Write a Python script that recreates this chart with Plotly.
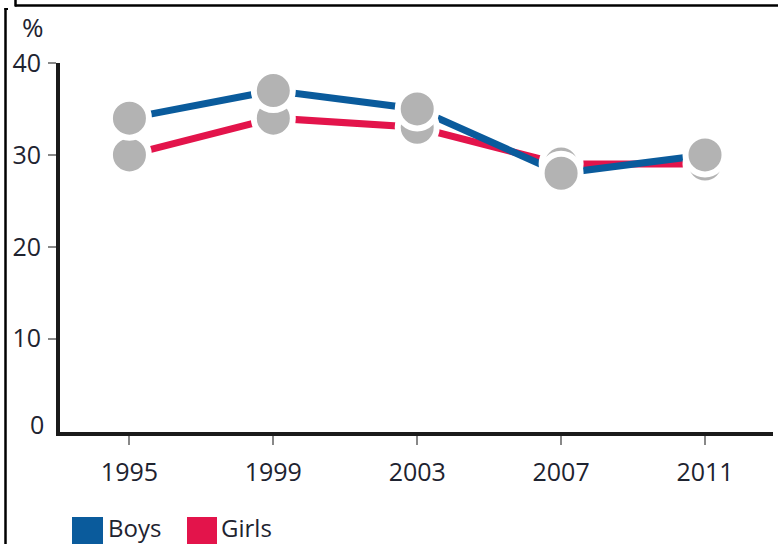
import plotly.graph_objects as go

years = [1995, 1999, 2003, 2007, 2011]
boys = [34, 37, 35, 28, 30]
girls = [30, 34, 33, 29, 29]
y_tick_vals = [10, 20, 30, 40]
y_tick_text = ["10", "20", "30", "40"]
x_tick_text = ["1995", "1999", "2003", "2007", "2011"]
series_names = ["Boys", "Girls"]

BLUE = "#0a5b9c"
RED = "#e3144b"
GREY = "#b3b3b3"
FONT = "Open Sans, DejaVu Sans, sans-serif"
TXT = "#1e2330"

W, H = 778, 544
L, R, T, B = 60, 5, 63, 112
PW, PH = W - L - R, H - T - B


def px(x):
    return (x - L) / PW


def py(y):
    return (H - B - y) / PH


fig = go.Figure()

# lines first
fig.add_trace(go.Scatter(x=years, y=girls, mode="lines", name="Girls",
                         line=dict(color=RED, width=7), showlegend=False,
                         cliponaxis=False))
fig.add_trace(go.Scatter(x=years, y=boys, mode="lines", name="Boys",
                         line=dict(color=BLUE, width=7), showlegend=False,
                         cliponaxis=False))
# markers on top
fig.add_trace(go.Scatter(x=years, y=girls, mode="markers", name="Girls",
                         marker=dict(color=GREY, size=39,
                                     line=dict(color="white", width=6)),
                         showlegend=False, cliponaxis=False))
fig.add_trace(go.Scatter(x=years, y=boys, mode="markers", name="Boys",
                         marker=dict(color=GREY, size=39,
                                     line=dict(color="white", width=6)),
                         showlegend=False, cliponaxis=False))

shapes = []
# frame lines
shapes.append(dict(type="line", xref="paper", yref="paper",
                   x0=px(15), x1=px(778), y0=py(5.5), y1=py(5.5),
                   line=dict(color="black", width=2.5)))
shapes.append(dict(type="line", xref="paper", yref="paper",
                   x0=px(15.5), x1=px(15.5), y0=py(0), y1=py(6.5),
                   line=dict(color="black", width=2.5)))
shapes.append(dict(type="line", xref="paper", yref="paper",
                   x0=px(5.5), x1=px(5.5), y0=py(8), y1=py(544),
                   line=dict(color="black", width=2.5)))
shapes.append(dict(type="line", xref="paper", yref="paper",
                   x0=px(4.5), x1=px(8), y0=py(9), y1=py(9),
                   line=dict(color="black", width=2)))
# legend swatches
shapes.append(dict(type="rect", xref="paper", yref="paper",
                   x0=px(72), x1=px(103), y0=py(517), y1=py(546),
                   fillcolor=BLUE, line=dict(width=0)))
shapes.append(dict(type="rect", xref="paper", yref="paper",
                   x0=px(187), x1=px(217), y0=py(517), y1=py(546),
                   fillcolor=RED, line=dict(width=0)))

annotations = [
    dict(text="%", xref="paper", yref="paper", x=px(33), y=py(27),
         xanchor="center", yanchor="middle", showarrow=False,
         font=dict(family=FONT, size=26, color=TXT)),
    dict(text="0", xref="paper", yref="y", x=px(46), y=0, yshift=7,
         xanchor="right", yanchor="middle", showarrow=False,
         font=dict(family=FONT, size=25, color=TXT)),
    dict(text=series_names[0], xref="paper", yref="paper", x=px(106), y=py(527),
         xanchor="left", yanchor="middle", showarrow=False,
         font=dict(family=FONT, size=24, color=TXT)),
    dict(text=series_names[1], xref="paper", yref="paper", x=px(219), y=py(527),
         xanchor="left", yanchor="middle", showarrow=False,
         font=dict(family=FONT, size=24, color=TXT)),
]

fig.update_layout(
    width=W, height=H,
    margin=dict(l=L, r=R, t=T, b=B, pad=0),
    paper_bgcolor="white", plot_bgcolor="white",
    showlegend=False,
    shapes=shapes, annotations=annotations,
    font=dict(family=FONT, size=25, color=TXT),
    xaxis=dict(range=[1993.07, 2012.89], tickvals=years, ticktext=x_tick_text,
               showgrid=False, zeroline=False, showline=True,
               linecolor="#1a1a1a", linewidth=3.5,
               ticks="outside", ticklen=9, tickwidth=2, tickcolor="#888888",
               tickfont=dict(family=FONT, size=25, color=TXT),
               ticklabelstandoff=6, fixedrange=True),
    yaxis=dict(range=[-0.15, 40], tickvals=y_tick_vals, ticktext=y_tick_text,
               showgrid=False, zeroline=False, showline=True,
               linecolor="#1a1a1a", linewidth=4,
               ticks="outside", ticklen=8, tickwidth=2, tickcolor="#888888",
               tickfont=dict(family=FONT, size=25, color=TXT),
               ticklabelstandoff=2, fixedrange=True),
)

fig.write_html("out.html", config={"displayModeBar": False})

# remove the default page margin so the figure sits at the window's top-left
with open("out.html", "r", encoding="utf-8") as f:
    html = f.read()
html = html.replace(
    "<head>",
    "<head><style>html,body{margin:0;padding:0;overflow:hidden;}</style>",
    1,
)
with open("out.html", "w", encoding="utf-8") as f:
    f.write(html)
